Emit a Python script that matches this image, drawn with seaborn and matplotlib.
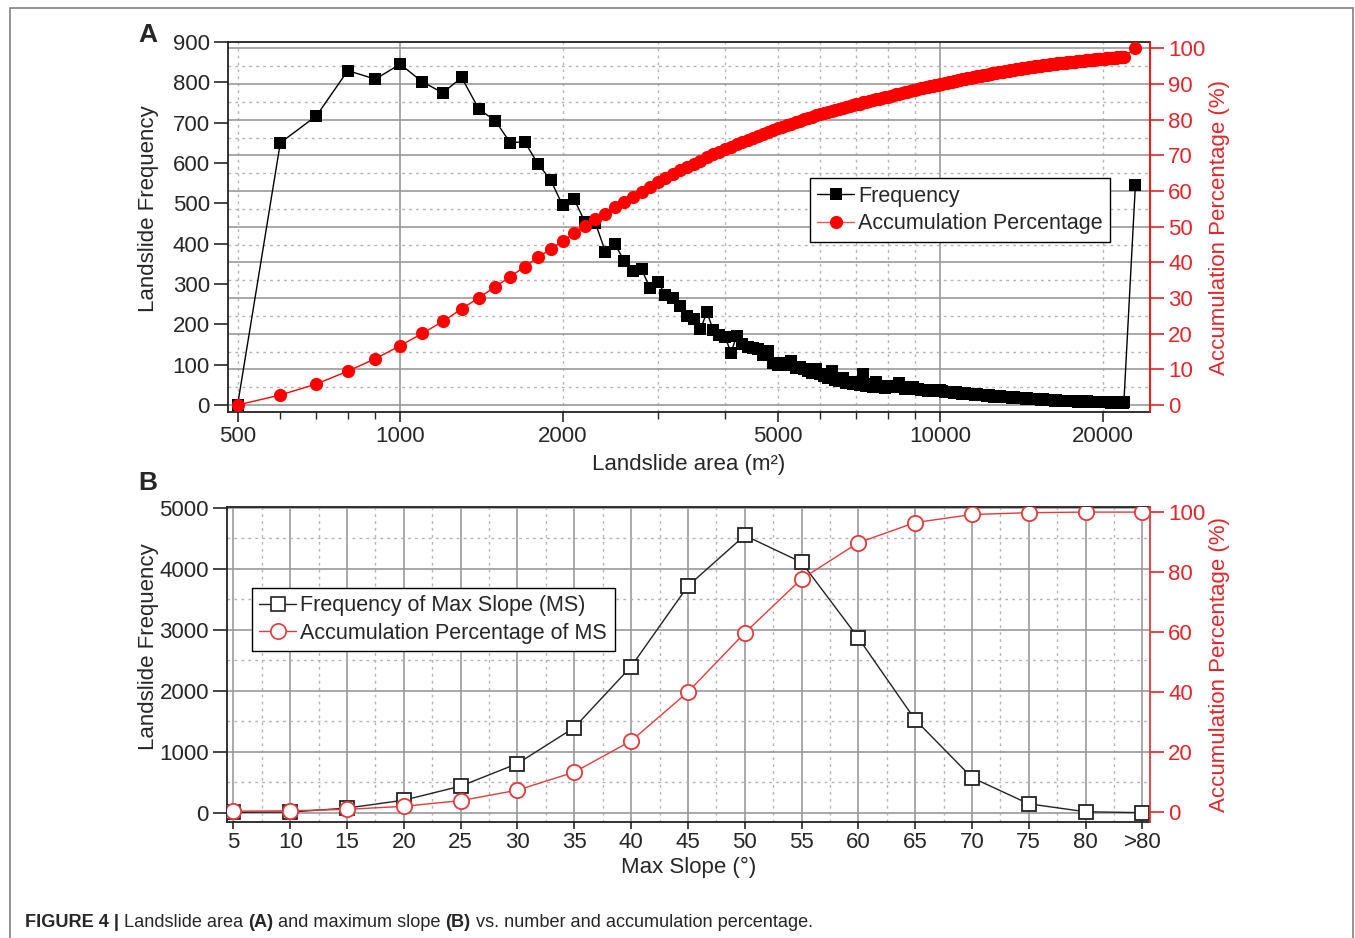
import numpy as np
import matplotlib
matplotlib.use("Agg")
import matplotlib.pyplot as plt
import seaborn as sns
from matplotlib.lines import Line2D
from matplotlib.patches import Rectangle
from matplotlib.ticker import FixedLocator, NullFormatter

# ---- panel A: landslide area bins (m2, 100 m2 wide) and counts
area_bins = np.arange(500, 22000, 100)
area_freq = [
    0, 650, 717, 829, 808, 845,                       # 500-1000
    801, 774, 812, 733, 705, 650, 653, 598, 558, 495,  # 1100-2000
    511, 453, 451, 380, 399, 357, 333, 337, 291, 306,  # 2100-3000
    273, 265, 245, 221, 212, 188, 230, 186, 174, 168,  # 3100-4000
    130, 171, 150, 145, 142, 140, 125, 135, 105, 100,  # 4100-5000
    105, 98, 110, 92, 95, 88, 85, 80, 90, 78,          # 5100-6000
    72, 68, 84, 62, 60, 66, 55, 58, 52, 56,            # 6100-7000
    50, 77, 48, 52, 45, 58, 44, 48, 42, 46,            # 7100-8000
    46, 44, 48, 55, 45, 40, 43, 41, 44, 40,            # 8100-9000
    40, 38, 36, 38, 35, 37, 34, 36, 35, 36,            # 9100-10000
    34, 33, 32, 33, 31, 30, 31, 29, 30, 28,            # 10100-11000
    29, 27, 28, 26, 27, 25, 26, 24, 25, 24,            # 11100-12000
    24, 23, 24, 22, 23, 21, 22, 21, 22, 20,            # 12100-13000
    21, 20, 21, 19, 20, 18, 19, 18, 18, 17,            # 13100-14000
    18, 17, 17, 16, 17, 15, 16, 15, 15, 14,            # 14100-15000
    15, 14, 14, 13, 14, 13, 13, 12, 13, 12,            # 15100-16000
    12, 12, 11, 12, 11, 11, 10, 11, 10, 10,            # 16100-17000
    10, 10, 9, 10, 9, 9, 10, 9, 9, 8,                  # 17100-18000
    9, 9, 8, 9, 8, 8, 9, 8, 8, 8,                      # 18100-19000
    8, 8, 7, 8, 7, 8, 7, 7, 8, 7,                      # 19100-20000
    8, 7, 7, 8, 7, 7, 6, 7, 7, 6,                      # 20100-21000
    7, 6, 7, 6, 6, 7, 6, 6, 7,                         # 21100-21900
]
last_bin, last_freq = 23000, 545   # the open upper bin

# ---- panel B: max slope classes
slope_labels = ["5", "10", "15", "20", "25", "30", "35", "40", "45", "50",
                "55", "60", "65", "70", "75", "80", ">80"]
slope_freq = [10, 15, 80, 210, 440, 810, 1400, 2400, 3720, 4550,
              4110, 2870, 1530, 580, 150, 20, 5]
slope_cum = [0.3, 0.4, 0.9, 1.9, 3.8, 7.3, 13.3, 23.7, 40.0, 59.7,
             77.7, 89.8, 96.5, 99.2, 99.8, 100.0, 100.0]

W, H = 1355, 938
RED = "#ff0000"
RED_TXT = "#e0262b"
RED_B = "#e4393c"
GRID = "#9a9a9a"
DOT = "#b4b4b4"

sns.set_theme(style="ticks")
plt.rcParams['font.family'] = ['Liberation Sans', 'DejaVu Sans']
plt.rcParams['axes.edgecolor'] = '#222222'
plt.rcParams['axes.linewidth'] = 1.3

fig = plt.figure(figsize=(W / 100, H / 100), dpi=100)

def fx(px):
    return px / W

def fy(px):
    return 1 - px / H

# ================= panel A =================
axA = fig.add_axes([fx(228), fy(412), fx(1150) - fx(228), fy(42) - fy(412)])
axA.set_xscale('log')
axA2 = axA.twinx()

x_all = np.append(area_bins, last_bin)
f_all = np.array(area_freq + [last_freq], dtype=float)
cum_all = np.cumsum(f_all) / f_all.sum() * 100

sns.lineplot(x=x_all, y=f_all, ax=axA, color='black', linewidth=1,
             marker='s', markersize=8.5, markeredgewidth=0, zorder=3)
sns.lineplot(x=x_all, y=cum_all, ax=axA2, color=RED, linewidth=1,
             marker='o', markersize=9.5, markeredgewidth=0, zorder=3)

axA.set_xlim(480, 24480)
axA.set_ylim(-17.4, 900)
axA2.set_ylim(-1.96, 101.8)
axA.set_yticks(range(0, 901, 100))
axA2.set_yticks(range(0, 101, 10))
axA.set_xticks([500, 1000, 2000, 5000, 10000, 20000])
axA.set_xticklabels(["500", "1000", "2000", "5000", "10000", "20000"])
axA.xaxis.set_minor_locator(FixedLocator([600, 700, 800, 900, 3000, 4000,
                                          6000, 7000, 8000, 9000]))
axA.xaxis.set_minor_formatter(NullFormatter())

# grid: vertical from the area axis, horizontal from the percent axis
for v in [1000, 10000]:
    axA.axvline(v, color=GRID, lw=1.2, zorder=0.5)
for v in [500, 2000, 3000, 4000, 5000, 6000, 7000, 8000, 9000, 20000]:
    axA.axvline(v, color=DOT, lw=1, ls=(0, (2, 3)), zorder=0.5)
a0, a1 = axA.get_ylim()
b0, b1 = axA2.get_ylim()
for p in range(0, 101, 5):
    yv = a0 + (p - b0) * (a1 - a0) / (b1 - b0)
    if p % 10 == 0:
        axA.axhline(yv, color=GRID, lw=1.2, zorder=0.5)
    else:
        axA.axhline(yv, color=DOT, lw=1, ls=(0, (2, 3)), zorder=0.5)

axA.tick_params(axis='y', which='major', direction='out', length=10, width=1.2,
                left=True, right=False, labelsize=16, pad=3)
axA.tick_params(axis='x', which='major', direction='out', length=7, width=1.2,
                bottom=True, top=False, labelsize=16, pad=3)
axA.tick_params(axis='x', which='minor', direction='out', length=5, width=1,
                bottom=True, top=False)
axA2.tick_params(axis='y', which='major', direction='out', length=10, width=1.2,
                 right=True, colors=RED_TXT, labelsize=16, pad=3)
axA2.tick_params(axis='x', which='both', top=True, bottom=False, direction='in',
                 length=7, width=1, labeltop=False, labelbottom=False)
axA2.spines['right'].set_color(RED)
axA2.spines['right'].set_linewidth(1.3)
for s in ['left', 'top', 'bottom']:
    axA2.spines[s].set_visible(False)
axA.spines['right'].set_visible(False)

axA.set_xlabel("Landslide area (m²)", fontsize=16, labelpad=5)
axA.set_ylabel("Landslide Frequency", fontsize=16)
axA.yaxis.set_label_coords(-0.0748, 0.551)
axA2.set_ylabel("Accumulation Percentage (%)", fontsize=16, color=RED_TXT, labelpad=3)

hA = [Line2D([], [], color='black', lw=1, marker='s', markersize=8.5, markeredgewidth=0),
      Line2D([], [], color='#e85a5a', lw=1, marker='o', markersize=9.5,
             markerfacecolor=RED, markeredgewidth=0)]
legA = axA2.legend(hA, ["Frequency", "Accumulation Percentage"], loc='upper left',
                   bbox_to_anchor=(0.631, 0.632), frameon=True, fancybox=False,
                   edgecolor='black', framealpha=1, fontsize=15.5, handlelength=1.7,
                   handletextpad=0.2, labelspacing=0.3, borderpad=0.35, borderaxespad=0)
legA.get_frame().set_linewidth(1.0)

# ================= panel B =================
axB = fig.add_axes([fx(227), fy(822), fx(1150) - fx(227), fy(507) - fy(822)])
axB2 = axB.twinx()
slope_pos = np.arange(len(slope_labels))

sns.lineplot(x=slope_pos, y=slope_freq, ax=axB, color='#222222', linewidth=1,
             marker='s', markersize=10, markerfacecolor='white',
             markeredgecolor='#222222', markeredgewidth=1.3, zorder=3)
sns.lineplot(x=slope_pos, y=slope_cum, ax=axB2, color=RED_B, linewidth=1,
             marker='o', markersize=11, markerfacecolor='white',
             markeredgecolor=RED_B, markeredgewidth=1.3, zorder=3)

axB.set_xlim(-0.114, 16.135)
axB.set_ylim(-148, 5016)
axB2.set_ylim(-3.33, 101.7)
axB.set_xticks(slope_pos)
axB.set_xticklabels(slope_labels)
axB.set_yticks(range(0, 5001, 1000))
axB2.set_yticks(range(0, 101, 20))

for i in slope_pos:
    axB.axvline(i, color=GRID, lw=1.2, zorder=0.5)
for i in slope_pos[:-1]:
    axB.axvline(i + 0.5, color=DOT, lw=1, ls=(0, (2, 3)), zorder=0.5)
for v in range(0, 5001, 1000):
    axB.axhline(v, color=GRID, lw=1.2, zorder=0.5)
for v in range(500, 5000, 1000):
    axB.axhline(v, color=DOT, lw=1, ls=(0, (2, 3)), zorder=0.5)

axB.tick_params(axis='y', direction='out', length=10, width=1.2, left=True,
                right=False, labelsize=16, pad=3)
axB.tick_params(axis='x', direction='out', length=5, width=1.2, bottom=True,
                top=False, labelsize=16, pad=2)
axB2.tick_params(axis='y', direction='out', length=10, width=1.2, right=True,
                 colors=RED_TXT, labelsize=16, pad=3)
axB2.tick_params(axis='x', which='both', top=True, bottom=False, direction='in',
                 length=7, width=1, labeltop=False, labelbottom=False)
axB2.spines['right'].set_color(RED_B)
axB2.spines['right'].set_linewidth(1.3)
for s in ['left', 'top', 'bottom']:
    axB2.spines[s].set_visible(False)
axB.spines['right'].set_visible(False)

axB.set_xlabel("Max Slope (°)", fontsize=16, labelpad=3)
axB.set_ylabel("Landslide Frequency", fontsize=16)
axB.yaxis.set_label_coords(-0.0737, 0.556)
axB2.set_ylabel("Accumulation Percentage (%)", fontsize=16, color=RED_TXT, labelpad=3)

hB = [Line2D([], [], color='#222222', lw=1, marker='s', markersize=10,
             markerfacecolor='white', markeredgewidth=1.2),
      Line2D([], [], color=RED_B, lw=1, marker='o', markersize=11,
             markerfacecolor='white', markeredgewidth=1.2)]
legB = axB2.legend(hB, ["Frequency of Max Slope (MS)", "Accumulation Percentage of MS"],
                   loc='upper left', bbox_to_anchor=(0.027, 0.743), frameon=True,
                   fancybox=False, edgecolor='black', framealpha=1, fontsize=15.5,
                   handlelength=1.7, handletextpad=0.2, labelspacing=0.3,
                   borderpad=0.35, borderaxespad=0)
legB.get_frame().set_linewidth(1.0)

# ================= decorations =================
fig.text(fx(148), fy(35), "A", fontsize=19, fontweight='bold', ha='center', va='center')
fig.text(fx(148), fy(483), "B", fontsize=19, fontweight='bold', ha='center', va='center')

fig.add_artist(Rectangle((fx(10), -0.01), fx(1353) - fx(10), fy(8) + 0.01,
                         transform=fig.transFigure, fill=False,
                         edgecolor='#808080', lw=1.2))

cap_font = ['Liberation Sans Narrow', 'Liberation Sans', 'DejaVu Sans']
pieces = [("FIGURE 4 | ", 'bold'), ("Landslide area ", 'normal'), ("(A)", 'bold'),
          (" and maximum slope ", 'normal'), ("(B)", 'bold'),
          (" vs. number and accumulation percentage.", 'normal')]
renderer = fig.canvas.get_renderer()

def put_caption(size):
    x = fx(25)
    made = []
    for txt, w in pieces:
        t = fig.text(x, fy(922), txt, fontsize=size, fontweight=w, ha='left',
                     va='center', family=cap_font)
        x += t.get_window_extent(renderer).width / W
        made.append(t)
    return made, x * W - 25

made, width = put_caption(12.5)
for t in made:
    t.remove()
put_caption(12.5 * 790 / width)

fig.savefig("out.png", dpi=100)
